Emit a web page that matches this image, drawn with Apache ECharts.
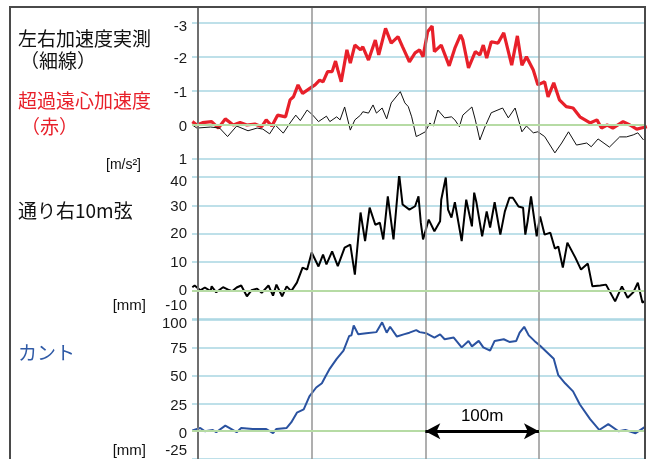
<!DOCTYPE html>
<html><head><meta charset="utf-8">
<script src="https://cdn.jsdelivr.net/npm/echarts@6/dist/echarts.min.js"></script>
<style>html,body{margin:0;padding:0;background:#fff}#c{width:648px;height:459px}</style>
</head><body><div id="c"></div>
<script>
// ---- data (x = distance in metres) ----
const accelRedX = [-5,-1,4,12,18,24,31,37,43,50,56,60,65,70,77,81,84,88,92,99,103,107,110,114,118,121,123,126,131,134,138,143,145,150,156,159,165,170,176,180,186,191,195,198,202,206,208,214,221,226,231,233,238,244,248,251,254,258,264,269,276,281,285,289,295,299,305,308,313,318,324,330,336,345,351,355,360,365,374,380,386,391,395];
const accelRedY = [-0.10,0,-0.07,-0.10,0.09,-0.18,0,-0.07,0,-0.03,0.05,-0.15,0.03,-0.29,-0.24,-0.74,-0.83,-1.18,-0.93,-1.09,-1.18,-1.32,-1.27,-1.57,-1.57,-1.88,-1.62,-1.27,-2.21,-1.82,-2.35,-2.21,-2.30,-1.91,-2.50,-2.06,-2.84,-2.41,-2.60,-2.30,-1.86,-2.12,-2.21,-2.01,-2.74,-2.91,-2.16,-2.35,-1.74,-2.26,-2.65,-2.50,-1.68,-2.16,-2.06,-2.35,-1.97,-2.45,-2.41,-2.71,-1.76,-2.62,-1.76,-2.01,-1.62,-1.18,-1.27,-0.83,-1.24,-0.74,-0.54,-0.50,-0.24,-0.06,-0.15,0.09,0,0.09,-0.10,0,0.12,0.08,0.05];
const accelThinX = [-5,-1,11,19,26,34,44,52,57,63,68,75,81,86,90,96,101,106,113,116,122,125,129,134,138,143,145,150,154,157,162,166,170,178,182,185,188,192,195,200,204,207,211,217,223,226,230,233,241,244,248,252,258,268,273,279,285,289,295,299,305,314,320,326,333,342,346,352,362,371,377,383,387,392];
const accelThinY = [0,0.09,0.06,0.09,0.34,0.03,0.17,0.09,0.12,0.26,0,0.24,-0.06,-0.29,-0.13,-0.44,-0.29,-0.10,-0.26,-0.10,-0.24,-0.15,-0.53,0.15,-0.15,-0.29,-0.39,-0.35,-0.59,-0.35,-0.50,-0.18,-0.65,-0.98,-0.65,-0.54,-0.24,0.34,0.29,0.20,-0.06,0.03,-0.44,-0.21,-0.24,-0.15,0.05,-0.29,-0.53,-0.15,0.44,0.09,-0.36,-0.50,-0.21,-0.50,0.20,0.03,0.23,0.20,0.34,0.82,0.53,0.20,0.59,0.53,0.64,0.41,0.65,0.35,0.35,0.29,0.23,0.44];
const alignX = [-5,-3,2,6,11,12,16,22,26,30,34,38,43,47,52,56,62,66,69,74,78,82,87,92,96,100,106,110,113,118,123,129,134,138,143,147,151,156,160,163,167,172,177,180,186,191,194,196,198,203,208,213,214,218,220,223,226,232,236,241,243,245,250,254,257,261,266,270,274,277,282,286,288,290,293,298,301,305,310,314,317,321,325,332,337,343,347,354,359,367,373,378,383,387,391,395];
const alignY = [1.2,1.8,0.1,1.1,-0.2,1.5,-0.6,1.2,0.4,-0.2,1.1,1.8,-2.0,0.1,0.7,-0.8,1.8,-1.8,2.1,-2.0,1.5,-0.2,2.8,8.1,7.4,13.4,8.5,12.7,9.2,13.8,8.6,15.1,16.2,5.6,27.5,17.4,29.2,23.2,23.9,18.0,33.2,18.0,40.8,30.3,28.5,29.7,33.2,24.0,18.0,25.0,20.9,24.4,32.0,39.8,28.5,25.7,31.1,17.4,32.0,22.6,34.5,31.0,19.1,27.9,22.2,31.1,19.7,27.9,32.7,32.7,29.6,29.2,19.7,24.4,33.2,19.1,26.1,19.7,20.4,14.8,15.5,8.1,16.9,11.6,7.4,9.5,1.5,1.8,2.1,-3.8,1.5,-2.5,-0.6,2.8,-4.2,-3.2];
const cantX = [-5,2,6,13,16,24,34,38,48,60,66,69,78,82,87,93,98,104,109,112,116,122,128,133,135,137,141,148,157,162,166,169,175,181,186,192,195,201,208,213,217,225,232,238,241,247,251,257,261,269,274,280,283,287,291,296,301,307,313,317,323,330,336,345,353,361,370,376,385,395];
const cantY = [0.6,2.9,0,1.1,-0.9,5.0,-0.9,2.9,2.0,2.0,-1.8,2.0,2.9,7.9,16.7,19.6,31.4,39.3,43.1,49.0,56.3,65.1,72.4,85.6,86.2,95.0,87.1,88.0,89.1,97.9,88.6,93.9,85.1,87.1,88.6,90.9,89.1,88.0,84.2,87.1,82.7,84.2,75.4,81.2,76.3,81.2,75.4,72.4,81.2,82.7,80.3,81.2,88.6,93.9,86.2,81.2,76.8,71.0,65.1,50.4,43.1,35.8,24.0,10.8,1.1,6.4,0,1.1,-1.8,5.0];
const distGrid = [0,100,200,300];
const accelTicks = [-3,-2,-1,0,1];
const alignTicks = [-10,0,10,20,30,40];
const cantTicks = [-25,0,25,50,75,100];
const scaleSpan = [200,300];
const scaleText = '100m';
const xMin = -5.3, xMax = 393.3;

const zip = (a,b) => a.map((x,i)=>[x,b[i]]);
const LAT = "'Liberation Sans', Arial, sans-serif";
const JP = "'Noto Sans CJK JP', sans-serif";

function mkLabel(shift) {
  const rich = {};
  const keys = Object.keys(shift);
  keys.forEach((k,i)=>{
    const s = shift[k];
    rich['r'+i] = {padding: s>=0 ? [2*s,0,0,0] : [0,0,-2*s,0], fontSize:15, fontFamily:LAT, color:'#1a1a1a'};
  });
  return {
    show:true, margin:5, fontSize:15, fontFamily:LAT, color:'#1a1a1a', rich,
    showMinLabel:true, showMaxLabel:true,
    formatter: v => { const i = keys.indexOf(String(v)); return i>=0 ? `{r${i}|${v}}` : String(v); }
  };
}
const split = {show:true, lineStyle:{color:'#a9d6e2', width:1.5}};
const gridsPx = [
  {left:192, right:3, top:23, height:136},
  {left:192, right:3, top:177, height:142},
  {left:192, right:3, top:320, height:142},
  {left:192, right:3, top:7, bottom:0}
];
const xAxes = gridsPx.map((g,i)=>({type:'value', gridIndex:i, min:xMin, max:xMax, show:false}));
const yAxes = [
  {type:'value', gridIndex:0, inverse:true, min:-3, max:1, interval:1, axisLine:{show:false}, axisTick:{show:false}, splitLine:split,
   axisLabel: mkLabel({'-3':4,'-2':2,'-1':2,'0':2,'1':1})},
  {type:'value', gridIndex:1, min:-10, max:40, interval:10, axisLine:{show:false}, axisTick:{show:false}, splitLine:split,
   axisLabel: mkLabel({'40':5,'30':1,'20':0,'10':1,'0':0,'-10':-13})},
  {type:'value', gridIndex:2, min:-25, max:100, interval:25, axisLine:{show:false}, axisTick:{show:false}, splitLine:split,
   axisLabel: mkLabel({'100':4,'75':1,'50':1,'25':2,'0':3,'-25':-8})},
  {type:'value', gridIndex:3, min:0, max:1, axisLine:{show:true, lineStyle:{color:'#000', width:2}}, axisTick:{show:false}, axisLabel:{show:false}, splitLine:{show:false}}
];
const zeroLine = i => ({type:'line', xAxisIndex:i, yAxisIndex:i, data:[], z:1, silent:true,
  markLine:{silent:true, symbol:'none', label:{show:false}, lineStyle:{color:'#b6dba4', width:2, type:'solid'}, data:[{yAxis:0}]}});
const base = {type:'line', showSymbol:false, symbol:'none', silent:true, z:3, animation:false};

const option = {
  animation:false,
  backgroundColor:'#fff',
  grid: gridsPx,
  xAxis: xAxes,
  yAxis: yAxes,
  series: [
    {type:'line', xAxisIndex:3, yAxisIndex:3, data:[], z:1, silent:true,
     markLine:{silent:true, symbol:'none', label:{show:false}, lineStyle:{color:'#959595', width:1.5, type:'solid'},
       data: distGrid.map(v=>({xAxis:v}))}},
    zeroLine(0), zeroLine(1), zeroLine(2),
    Object.assign({}, base, {name:'超過遠心加速度', xAxisIndex:0, yAxisIndex:0, data:zip(accelRedX,accelRedY), lineStyle:{color:'#e8202a', width:3.2}}),
    Object.assign({}, base, {name:'左右加速度実測', xAxisIndex:0, yAxisIndex:0, data:zip(accelThinX,accelThinY), lineStyle:{color:'#111', width:1}}),
    Object.assign({}, base, {name:'通り右10m弦', xAxisIndex:1, yAxisIndex:1, data:zip(alignX,alignY), lineStyle:{color:'#000', width:2}}),
    Object.assign({}, base, {name:'カント', xAxisIndex:2, yAxisIndex:2, data:zip(cantX,cantY), lineStyle:{color:'#2a52a0', width:2},
      markLine:{silent:true, symbol:['arrow','arrow'], symbolSize:[12,15],
        lineStyle:{color:'#000', width:3, type:'solid'},
        label:{show:true, position:'middle', formatter:scaleText, fontSize:17, fontFamily:LAT, color:'#000', distance:6},
        data:[[{coord:[scaleSpan[0],0]},{coord:[scaleSpan[1],0]}]]}})
  ],
  graphic: [
    {type:'rect', z:10, shape:{x:10,y:7,width:635,height:470}, style:{fill:'none', stroke:'#4a4a4a', lineWidth:2}},
    ...[
      ['左右加速度実測',18,39,'#111',JP,19,'left'],
      ['（細線）',20,61,'#111',JP,19,'left'],
      ['超過遠心加速度',18,101,'#e8202a',JP,19,'left'],
      ['（赤）',21,127,'#e8202a',JP,19,'left'],
      ['[m/s²]',141,165,'#111',LAT,14,'right'],
      ['通り右10m弦',18,211,'#111',JP,19,'left'],
      ['[mm]',146,306,'#111',LAT,15,'right'],
      ['カント',18,353,'#2f5aa6',JP,19,'left'],
      ['[mm]',146,451,'#111',LAT,15,'right']
    ].map(t=>({type:'text', z:10, x:t[1], y:t[2],
      style:{text:t[0], fill:t[3], fontFamily:t[4], fontSize:t[5], align:t[6], verticalAlign:'middle', textAlign:t[6], textVerticalAlign:'middle'}}))
  ]
};
const chart = echarts.init(document.getElementById('c'), null, {renderer:'canvas'});
chart.setOption(option);
</script></body></html>
